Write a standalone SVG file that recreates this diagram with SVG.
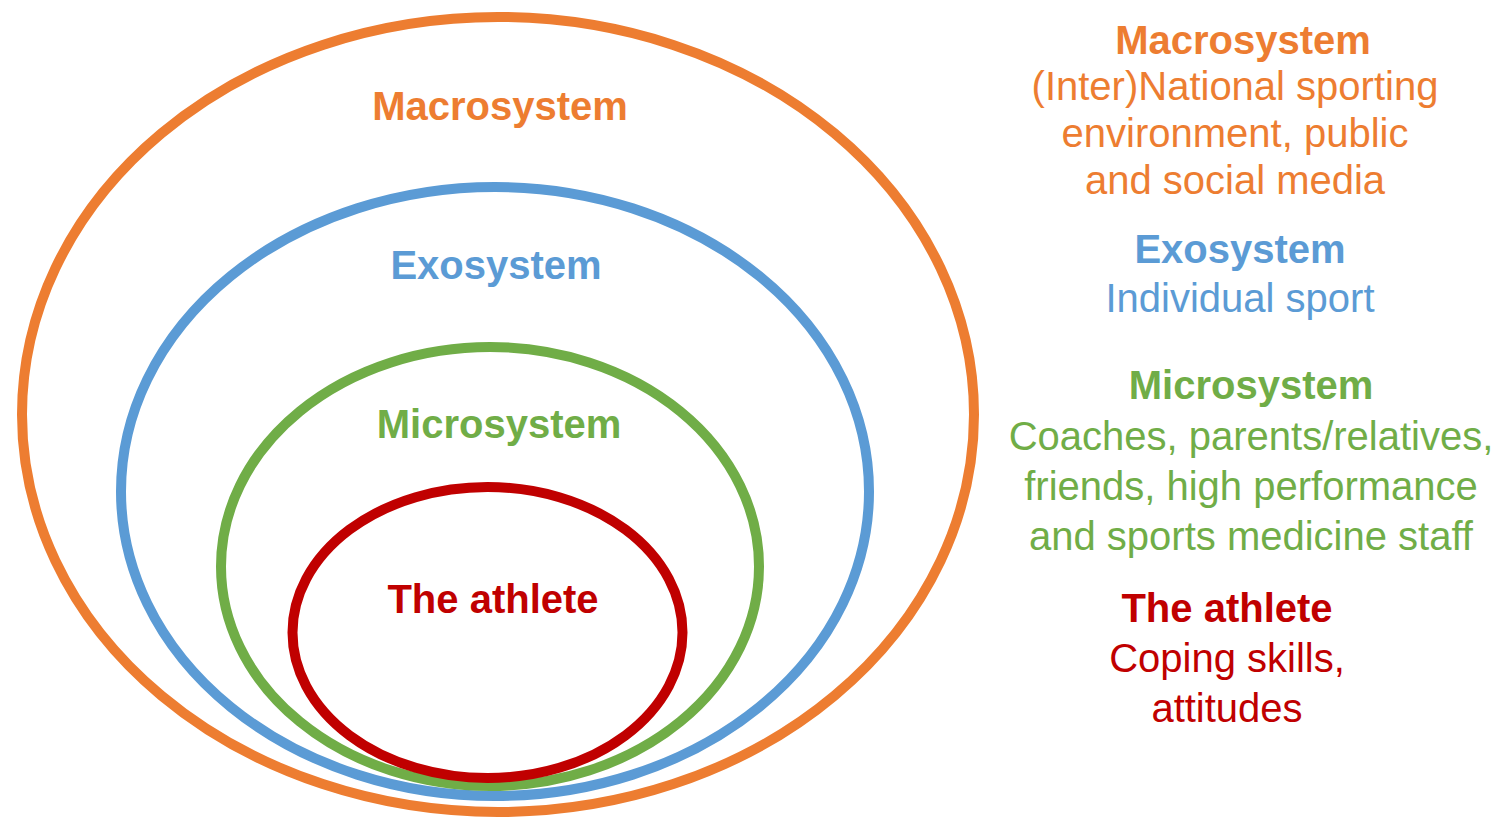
<svg xmlns="http://www.w3.org/2000/svg" width="1503" height="819" viewBox="0 0 1503 819">
<style>
.ring{fill:none;stroke-width:10}
.t{font-family:"Liberation Sans",Arial,sans-serif;font-size:40px;text-anchor:middle}
.b{font-weight:bold}
.or{fill:#ED7D31}.bl{fill:#5B9BD5}.gr{fill:#70AD47}.rd{fill:#C00000}
</style>
<rect width="1503" height="819" fill="#ffffff"/>
<g id="macrosystem">
<ellipse class="ring" cx="498" cy="414.5" rx="476" ry="397.5" stroke="#ED7D31"/>
<text class="t b or" x="500" y="120">Macrosystem</text>
</g>
<g id="exosystem">
<ellipse class="ring" cx="495" cy="491.5" rx="374" ry="304.5" stroke="#5B9BD5" stroke-width="11"/>
<text class="t b bl" x="496" y="279">Exosystem</text>
</g>
<g id="microsystem">
<ellipse class="ring" cx="490" cy="566.5" rx="269" ry="219.5" stroke="#70AD47"/>
<text class="t b gr" x="499" y="438">Microsystem</text>
</g>
<g id="athlete">
<ellipse class="ring" cx="487.5" cy="632.5" rx="195" ry="145.5" stroke="#C00000"/>
<text class="t b rd" x="493" y="613">The athlete</text>
</g>
<g id="legend-macro">
<text class="t b or" x="1243" y="54">Macrosystem</text>
<text class="t or" x="1235" y="100">(Inter)National sporting</text>
<text class="t or" x="1235" y="147">environment, public</text>
<text class="t or" x="1235" y="194">and social media</text>
</g>
<g id="legend-exo">
<text class="t b bl" x="1240" y="263">Exosystem</text>
<text class="t bl" x="1240" y="312">Individual sport</text>
</g>
<g id="legend-micro">
<text class="t b gr" x="1251" y="399">Microsystem</text>
<text class="t gr" x="1251" y="450">Coaches, parents/relatives,</text>
<text class="t gr" x="1251" y="500">friends, high performance</text>
<text class="t gr" x="1251" y="550">and sports medicine staff</text>
</g>
<g id="legend-athlete">
<text class="t b rd" x="1227" y="622">The athlete</text>
<text class="t rd" x="1227" y="672">Coping skills,</text>
<text class="t rd" x="1227" y="722">attitudes</text>
</g>
<g id="connectors"></g>
</svg>
